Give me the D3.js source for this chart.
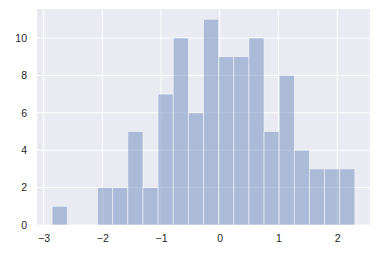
<!DOCTYPE html>
<html><head><meta charset="utf-8">
<script src="https://cdn.jsdelivr.net/npm/d3@7"></script>
<style>body{margin:0;background:#fff}svg{display:block}</style>
</head><body>
<script>
const binStart = -2.853;
const binEnd = 2.300;
const counts = [1,0,0,2,2,5,2,7,10,6,11,9,9,10,5,8,4,3,3,3];
const xTicks = [-3,-2,-1,0,1,2];
const yTicks = [0,2,4,6,8,10];
const xDomain = [-3.111, 2.558];
const yDomain = [0, 11.55];

const W = 392, H = 257;
const m = {left:37, right:22, top:9, bottom:32};
const svg = d3.select("body").append("svg").attr("width",W).attr("height",H);
const x = d3.scaleLinear().domain(xDomain).range([m.left, W-m.right]);
const y = d3.scaleLinear().domain(yDomain).range([H-m.bottom, m.top]);

svg.append("rect").attr("x",m.left).attr("y",m.top)
  .attr("width",W-m.right-m.left).attr("height",H-m.bottom-m.top).attr("fill","#EAEAF2");

const g = svg.append("g");
g.selectAll(".gx").data(xTicks).join("line")
  .attr("x1",d=>x(d)).attr("x2",d=>x(d)).attr("y1",m.top).attr("y2",H-m.bottom)
  .attr("stroke","#fff").attr("stroke-width",1);
g.selectAll(".gy").data(yTicks).join("line")
  .attr("y1",d=>y(d)).attr("y2",d=>y(d)).attr("x1",m.left).attr("x2",W-m.right)
  .attr("stroke","#fff").attr("stroke-width",1);

const bw = (binEnd-binStart)/counts.length;
const bins = counts.map((c,i)=>({x0:binStart+i*bw, x1:binStart+(i+1)*bw, c}));
svg.append("g").selectAll("rect").data(bins.filter(b=>b.c>0)).join("rect")
  .attr("x",d=>x(d.x0)).attr("width",d=>x(d.x1)-x(d.x0))
  .attr("y",d=>y(d.c)).attr("height",d=>y(0)-y(d.c))
  .attr("fill","#4C72B0").attr("fill-opacity",0.4)
  .attr("stroke","#fff").attr("stroke-opacity",0.6).attr("stroke-width",0.8);

const fmt = d => String(d).replace("-","\u2212");
const xa = svg.append("g").attr("transform",`translate(0,${H-m.bottom})`)
  .call(d3.axisBottom(x).tickValues(xTicks).tickFormat(fmt).tickSize(0).tickPadding(10));
const ya = svg.append("g").attr("transform",`translate(${m.left},0)`)
  .call(d3.axisLeft(y).tickValues(yTicks).tickFormat(fmt).tickSize(0).tickPadding(10));
[xa,ya].forEach(a=>{
  a.select(".domain").remove();
  a.selectAll("text").attr("font-family","Liberation Sans, Arial, sans-serif")
    .attr("font-size",10.5).attr("fill","#262626");
});
</script>
</body></html>
